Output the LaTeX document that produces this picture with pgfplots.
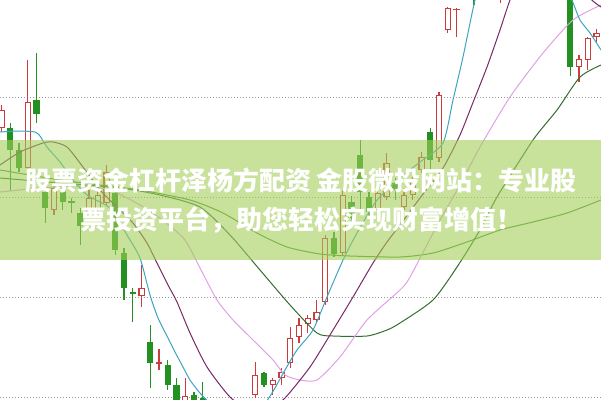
\documentclass[border=0pt]{standalone}
\usepackage{pgfplots}
\pgfplotsset{compat=1.18}
\usepackage{pgfplotstable}
\usepackage{fontspec}
\newfontfamily\cjk{Noto Sans CJK SC}
\definecolor{cgreen}{RGB}{34,145,34}
\definecolor{cred}{RGB}{205,60,60}
\definecolor{maA}{RGB}{60,165,190}
\definecolor{maB}{RGB}{120,40,100}
\definecolor{maC}{RGB}{225,160,230}
\definecolor{maD}{RGB}{50,110,50}
\definecolor{maE}{RGB}{70,150,50}
\definecolor{bannercol}{RGB}{163,205,88}

\pgfplotstableread{
k top bot high low
1 128 150 123 191
2 150 168 143 172
4 100 114 53 123
5 192 208 185 223
7 190 202 183 210
8 201 203 198 213
9 213 226 208 245
13 193 250 188 255
14 253 288 248 300
15 292 294 288 322
17 342 363 325 388
19 365 385 360 390
20 385 410 378 415
22 395 410 392 415
23 398 410 382 415
30 373 385 372 387
38 238 254 232 257
40 202 218 196 224
41 155 192 140 213
42 197 212 192 218
45 183 190 178 200
49 132 160 128 170
54 -20 -5 -30 5
65 -10 67 -20 76
}\greentab

\pgfplotstableread{
k top bot high low
0 110 128 105 132
3 102 168 60 172
6 188 210 185 215
10 198 213 190 216
11 195 210 188 213
12 172 203 165 206
16 288 296 265 307
18 362 364 349 370
21 396 410 378 415
29 375 395 362 398
31 380 385 378 395
32 372 378 368 385
33 338 363 327 368
34 325 337 318 343
35 318 324 315 333
36 312 320 300 323
37 238 302 235 305
39 195 253 190 256
43 193 210 185 213
44 163 197 153 200
46 195 207 188 210
47 180 195 175 200
48 157 170 152 173
50 95 158 92 162
51 8 30 7 33
52 9 10 8 37
57 -20 -8 -25 3
66 59 67 55 82
67 38 60 37 70
68 33 37 29 42
}\redtab

\begin{document}
\begin{tikzpicture}
\begin{axis}[
  width=601bp, height=400bp, scale only axis,
  xmin=0, xmax=601, ymin=0, ymax=400, y dir=reverse,
  hide axis,
  clip=true,
]
% grid lines
\addplot[gray!80, line width=0.9bp, dash pattern=on 1bp off 2bp, forget plot] coordinates {(0,97) (601,97)};
\addplot[gray!80, line width=0.9bp, dash pattern=on 1bp off 2bp, forget plot] coordinates {(0,197) (601,197)};
\addplot[gray!80, line width=0.9bp, dash pattern=on 1bp off 2bp, forget plot] coordinates {(0,297) (601,297)};
\addplot[gray!80, line width=0.9bp, dash pattern=on 1bp off 2bp, forget plot] coordinates {(0,397) (601,397)};
% wicks
\addplot[draw=none, forget plot, error bars/.cd, y dir=plus, y explicit, error mark=none,
  error bar style={draw=cgreen, line width=1.1bp, solid}]
  table[x expr=1.5+8.75*\thisrow{k}, y=high, y error expr=\thisrow{low}-\thisrow{high}] {\greentab};
\addplot[draw=none, forget plot, error bars/.cd, y dir=plus, y explicit, error mark=none,
  error bar style={draw=cred, line width=1.1bp, solid}]
  table[x expr=1.5+8.75*\thisrow{k}, y=high, y error expr=\thisrow{low}-\thisrow{high}] {\redtab};
% bodies
\addplot[draw=none, forget plot, error bars/.cd, y dir=plus, y explicit, error mark=none,
  error bar style={draw=cgreen, line width=6.3bp, solid}]
  table[x expr=1.5+8.75*\thisrow{k}, y=top, y error expr=\thisrow{bot}-\thisrow{top}] {\greentab};
\addplot[draw=none, forget plot, error bars/.cd, y dir=plus, y explicit, error mark=none,
  error bar style={draw=cred, line width=6.3bp, solid}]
  table[x expr=1.5+8.75*\thisrow{k}, y=top, y error expr=\thisrow{bot}-\thisrow{top}] {\redtab};
\addplot[draw=none, forget plot, error bars/.cd, y dir=plus, y explicit, error mark=none,
  error bar style={draw=white, line width=4.0bp, solid}]
  table[x expr=1.5+8.75*\thisrow{k}, y expr=\thisrow{top}+1.2, y error expr={max(\thisrow{bot}-\thisrow{top}-2.4,0)}] {\redtab};
% moving averages
\addplot[maE, line width=1bp, smooth, tension=0.4] coordinates {(0,170) (60,180) (100,185) (140,190) (190,200) (223,213) (257,233) (287,247) (320,254) (350,256) (400,257) (433,253) (467,242) (500,230) (533,222) (567,213) (601,200)};
\addplot[maD, line width=1bp, smooth, tension=0.4] coordinates {(0,178) (60,183) (120,188) (160,195) (200,207) (230,235) (260,270) (290,305) (317,333) (333,336) (367,336) (387,330) (400,323) (433,300) (457,267) (480,230) (497,197) (533,140) (557,110) (580,77) (601,65)};
\addplot[maC, line width=1bp, smooth, tension=0.4] coordinates {(0,192) (40,188) (80,186) (110,190) (140,205) (165,222) (185,240) (200,268) (217,300) (233,320) (250,337) (273,360) (285,375) (300,380) (317,380) (340,357) (367,320) (400,290) (410,277) (440,220) (460,185) (480,147) (510,97) (543,53) (573,20) (601,5)};
\addplot[maB, line width=1bp, smooth, tension=0.4] coordinates {(0,165) (20,152) (43,143) (53,142) (67,147) (83,167) (100,190) (117,207) (133,223) (147,243) (157,263) (168,285) (177,302) (190,333) (207,367) (230,397) (250,410) (270,408) (285,398) (310,367) (333,330) (353,297) (373,263) (387,242) (400,225) (420,198) (443,168) (460,135) (472,105) (487,67) (500,30) (510,0) (520,-20) (585,-20) (590,-2) (601,7)};
\addplot[maA, line width=1bp, smooth, tension=0.4] coordinates {(0,132) (20,131) (35,132) (40,136) (47,147) (60,162) (73,180) (87,195) (100,202) (112,210) (127,235) (140,258) (150,295) (158,318) (167,336) (175,352) (183,367) (190,380) (200,393) (212,404) (240,412) (262,406) (272,393) (285,370) (297,350) (313,330) (327,297) (343,260) (357,233) (377,200) (400,178) (420,162) (443,143) (453,100) (463,57) (475,0) (485,-30) (560,-30) (572,0) (580,20) (590,33) (601,50)};
% banner
\addplot[draw=none, fill=bannercol, fill opacity=0.6, forget plot] coordinates {(-2,140) (603,140) (603,260) (-2,260)} -- cycle;
\node[text=white, font=\cjk\bfseries\fontsize{26bp}{39bp}\selectfont, align=center, inner sep=0pt] at (axis cs:301,201) {股票资金杠杆泽杨方配资 金股微投网站：专业股\\票投资平台，助您轻松实现财富增值！};
\end{axis}
\end{tikzpicture}
\end{document}
